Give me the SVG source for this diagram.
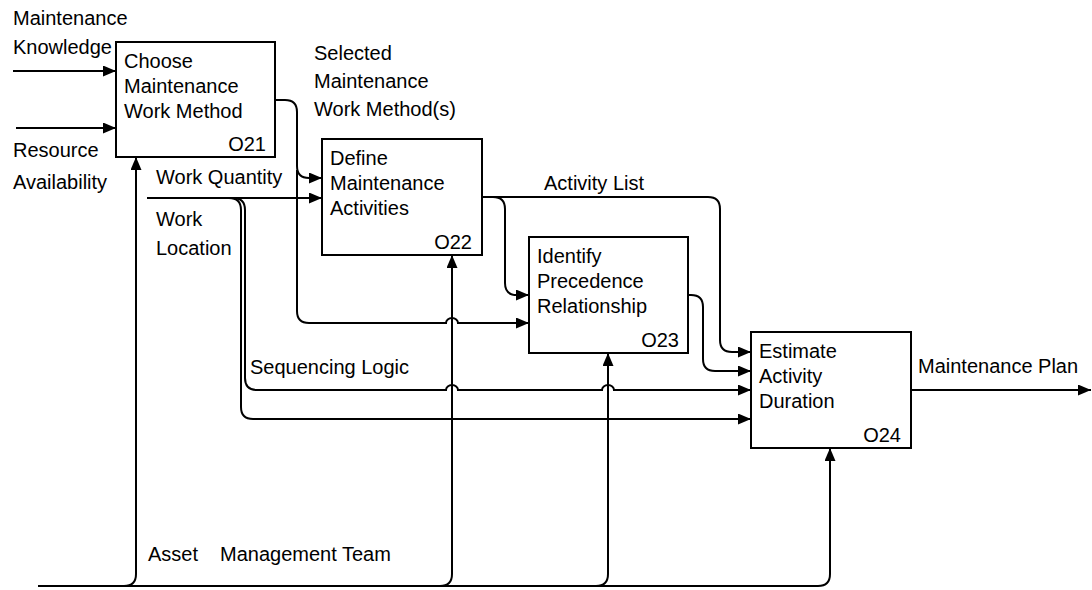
<svg xmlns="http://www.w3.org/2000/svg" width="1092" height="590" viewBox="0 0 1092 590">
<style>
.box{fill:#fff;stroke:#000;stroke-width:2}
.ln{fill:none;stroke:#000;stroke-width:2;marker-end:url(#ah)}
.lnn{fill:none;stroke:#000;stroke-width:2}
text{font-family:"Liberation Sans",Arial,sans-serif;font-size:20px;fill:#000}
.id{text-anchor:end}
</style>
<defs>
<marker id="ah" markerUnits="userSpaceOnUse" markerWidth="13" markerHeight="11" refX="13" refY="5.5" orient="auto">
<path d="M0,0 L13,5.5 L0,11 z" fill="#000"/>
</marker>
</defs>
<rect width="1092" height="590" fill="#fff"/>
<g id="connectors">
<path class="ln" d="M13,71 H116"/>
<path class="ln" d="M16,128 H116"/>
<path class="ln" d="M275,100 H285 Q297,100 297,112 V166 Q297,178 309,178 H322"/>
<path class="ln" d="M297,170 V311 Q297,323 309,323 H446 a6,5 0 0 1 12,0 H529"/>
<path class="ln" d="M147,198 H322"/>
<path class="ln" d="M233,198 Q245,198 245,210 V378 Q245,390 257,390 H446 a6,5 0 0 1 12,0 H602 a6,5 0 0 1 12,0 H751"/>
<path class="ln" d="M229,198 Q241,198 241,210 V407 Q241,419 253,419 H751"/>
<path class="ln" d="M482,197 H708 Q720,197 720,209 V340 Q720,352 732,352 H751"/>
<path class="ln" d="M493,197 Q505,197 505,209 V283 Q505,295 517,295 H529"/>
<path class="ln" d="M688,295 H691 Q703,295 703,307 V359 Q703,371 715,371 H751"/>
<path class="ln" d="M911,390 H1091"/>
<path class="ln" d="M38,586 H818 Q830,586 830,574 V448"/>
<path class="ln" d="M124,586 Q136,586 136,574 V157"/>
<path class="ln" d="M440,586 Q452,586 452,574 V255"/>
<path class="ln" d="M596,586 Q608,586 608,574 V353"/>
</g>
<g id="labels">
<text x="13" y="25">Maintenance</text>
<text x="13" y="54">Knowledge</text>
<text x="13" y="157">Resource</text>
<text x="13" y="189">Availability</text>
<text x="314" y="60">Selected</text>
<text x="314" y="88">Maintenance</text>
<text x="314" y="116">Work Method(s)</text>
<text x="156" y="184">Work Quantity</text>
<text x="156" y="226">Work</text>
<text x="156" y="255">Location</text>
<text x="544" y="190">Activity List</text>
<text x="250" y="374">Sequencing Logic</text>
<text x="918" y="373">Maintenance Plan</text>
<text x="148" y="561">Asset</text>
<text x="220" y="561">Management Team</text>
</g>
<g id="O21">
<rect class="box" x="116" y="42" width="159" height="115"/>
<text x="124" y="68">Choose</text>
<text x="124" y="93">Maintenance</text>
<text x="124" y="118">Work Method</text>
<text class="id" x="266" y="151">O21</text>
</g>
<g id="O22">
<rect class="box" x="322" y="139" width="160" height="116"/>
<text x="330" y="165">Define</text>
<text x="330" y="190">Maintenance</text>
<text x="330" y="215">Activities</text>
<text class="id" x="472" y="249">O22</text>
</g>
<g id="O23">
<rect class="box" x="529" y="237" width="159" height="116"/>
<text x="537" y="263">Identify</text>
<text x="537" y="288">Precedence</text>
<text x="537" y="313">Relationship</text>
<text class="id" x="679" y="347">O23</text>
</g>
<g id="O24">
<rect class="box" x="751" y="332" width="160" height="116"/>
<text x="759" y="358">Estimate</text>
<text x="759" y="383">Activity</text>
<text x="759" y="408">Duration</text>
<text class="id" x="901" y="442">O24</text>
</g>
</svg>
